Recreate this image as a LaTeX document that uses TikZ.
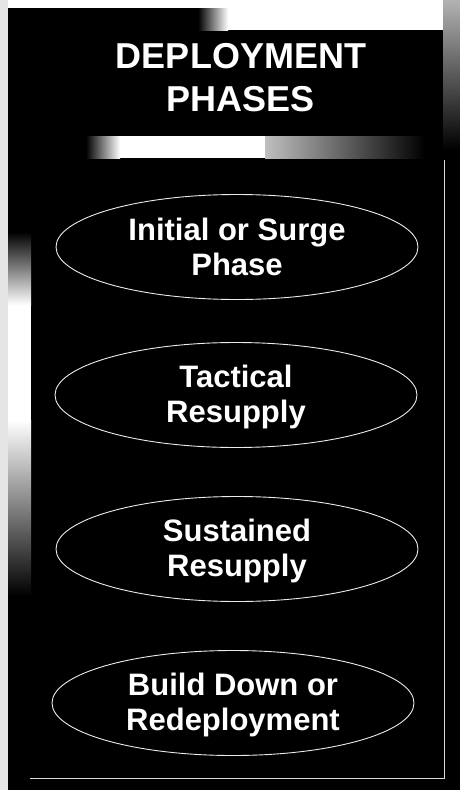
\documentclass[tikz,border=0pt]{standalone}
\usepackage{fontspec}
\setmainfont{Liberation Sans}
\usetikzlibrary{shapes.geometric}
\begin{document}
\begin{tikzpicture}[x=1pt,y=-1pt,
  phase/.style={draw=white!92!black, line width=0.9pt, ellipse, minimum width=362pt, minimum height=105pt, inner sep=0pt},
  phasetext/.style={text=white, font=\fontsize{31}{35}\selectfont\bfseries, align=center, inner sep=0pt},
  titletext/.style={text=white, font=\fontsize{36}{43}\selectfont\bfseries, align=center, inner sep=0pt},
  frameline/.style={draw=white!85!black, line width=0.9pt}]
\useasboundingbox (0,0) rectangle (460,790);
% background
\fill[black] (0,0) rectangle (460,790);
% light edges
\fill[white] (0,0) rectangle (460,8);
\fill[white!90!black] (0,0) rectangle (8,790);
\fill[white] (228,8) rectangle (443,30);
\shade[left color=black, right color=white] (198,8) rectangle (228,30);
\shade[top color=white!70!black, bottom color=black] (443,0) rectangle (460,150);
% bevel band under the title
\fill[white] (120,136) rectangle (265,158);
\shade[left color=black, right color=white] (86,136) rectangle (120,158);
\shade[left color=white!75!black, right color=black] (265,136) rectangle (425,158);
% left light band
\shade[top color=black, bottom color=white] (8,232) rectangle (31,305);
\fill[white] (8,305) rectangle (31,420);
\shade[top color=white, bottom color=black] (8,420) rectangle (31,596);
% frame lines
\coordinate (ftr) at (444,160);
\coordinate (fbr) at (444,778);
\coordinate (fbl) at (30,778);
\draw[frameline] (ftr) -- (fbr) -- (fbl);
% title
\node[titletext] (title) at (241,77.5) {DEPLOYMENT\\PHASES};
% phases
\node[phase] (p1) at (237,247) {};
\node[phase] (p2) at (236,395) {};
\node[phase] (p3) at (237,549) {};
\node[phase] (p4) at (233,703) {};
\node[phasetext] (t1) at (237,247) {Initial or Surge\\Phase};
\node[phasetext] (t2) at (236,397) {Tactical\\Resupply};
\node[phasetext] (t3) at (237,551) {Sustained\\Resupply};
\node[phasetext] (t4) at (233,705) {Build Down or\\Redeployment};
\end{tikzpicture}
\end{document}
